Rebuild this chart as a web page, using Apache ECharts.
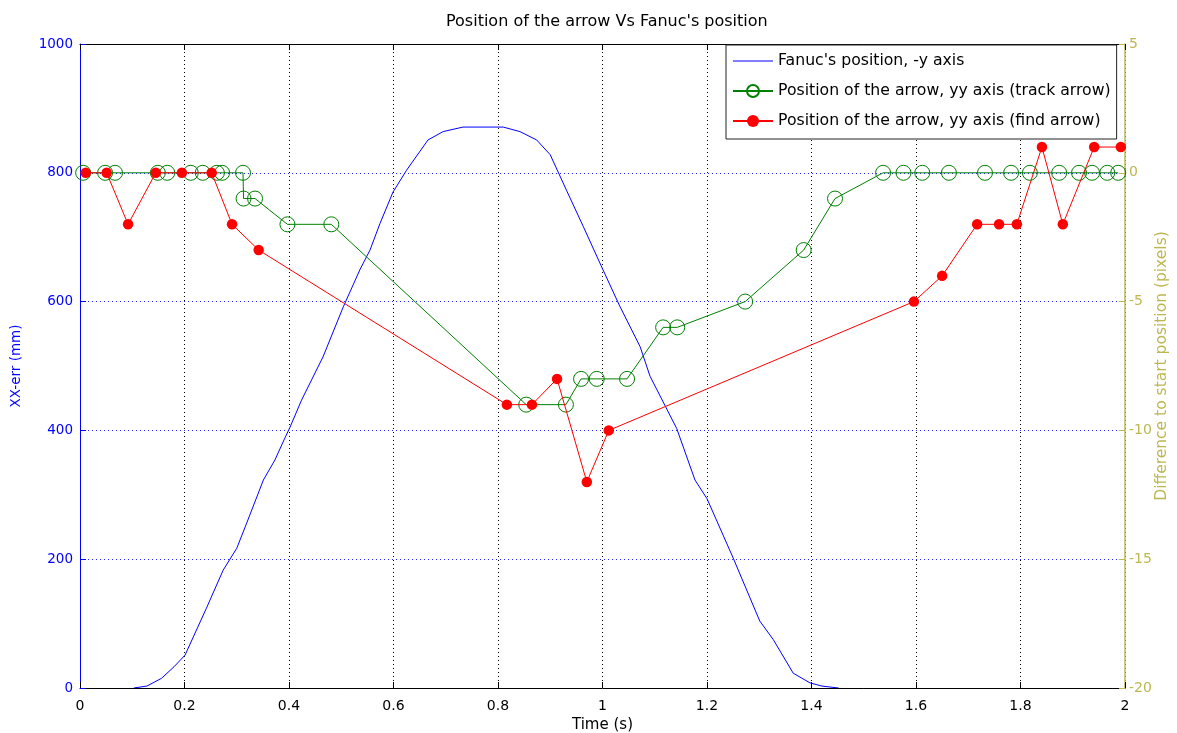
<!DOCTYPE html>
<html>
<head>
<meta charset="utf-8">
<script src="https://cdn.jsdelivr.net/npm/echarts@6/dist/echarts.min.js"></script>
<style>
html,body{margin:0;padding:0;background:#fff;}
#chart{width:1177px;height:733px;}
</style>
</head>
<body>
<div id="chart"></div>
<script>
// ---- data ----
const fanucTime = [0.103,0.128,0.156,0.18,0.201,0.242,0.274,0.30,0.319,0.351,0.373,0.392,0.402,0.424,0.465,0.504,0.536,0.555,0.574,0.599,0.625,0.666,0.695,0.733,0.81,0.842,0.874,0.9,0.931,0.963,1.0,1.033,1.072,1.091,1.12,1.142,1.177,1.2,1.25,1.301,1.327,1.365,1.397,1.42,1.452];
const fanucPos  = [0,3,15,33,51,124,183,217,256,323,354,388,405,447,514,592,650,680,721,770,804,851,864,871,871,864,851,828,773,717,651,593,530,484,438,403,323,294,202,104,75,23,8,3,0];

const trackTime = [0.006,0.048,0.067,0.149,0.167,0.212,0.235,0.262,0.272,0.312,0.313,0.335,0.397,0.481,0.854,0.930,0.959,0.989,1.047,1.116,1.143,1.273,1.385,1.445,1.537,1.576,1.612,1.663,1.732,1.782,1.818,1.874,1.912,1.937,1.966,1.987];
const trackDiff = [0,0,0,0,0,0,0,0,0,0,-1,-1,-2,-2,-9,-9,-8,-8,-8,-6,-6,-5,-3,-1,0,0,0,0,0,0,0,0,0,0,0,0];

const findTime = [0.011,0.051,0.092,0.145,0.195,0.252,0.291,0.342,0.817,0.865,0.913,0.970,1.012,1.596,1.650,1.717,1.759,1.793,1.841,1.881,1.941,1.992];
const findDiff = [0,0,-2,0,0,0,-2,-3,-9,-9,-8,-12,-10,-5,-4,-2,-2,-2,1,-2,1,1];

const seriesNames = ["Fanuc's position, -y axis", "Position of the arrow, yy axis (track arrow)", "Position of the arrow, yy axis (find arrow)"];
const titleText = "Position of the arrow Vs Fanuc's position";

const zip = (a, b) => a.map((v, i) => [v, b[i]]);
const FONT = 'DejaVu Sans';
const OLIVE = '#bdb752';

const chart = echarts.init(document.getElementById('chart'));
chart.setOption({
  animation: false,
  backgroundColor: '#fff',
  textStyle: { fontFamily: FONT },
  title: {
    text: titleText, left: 441, top: 9,
    textStyle: { fontSize: 16, fontWeight: 'normal', color: '#000', fontFamily: FONT }
  },
  grid: { left: 80, right: 52, top: 44, bottom: 45, containLabel: false, outerBoundsMode: 'none' },
  legend: {
    orient: 'vertical', left: 726, top: 45,
    backgroundColor: '#fff', borderColor: '#222', borderWidth: 1,
    padding: [8, 6, 10, 6], itemGap: 14, itemWidth: 40, itemHeight: 15,
    textStyle: { fontSize: 15.7, color: '#000', fontFamily: FONT },
    data: [
      { name: seriesNames[0], icon: 'path://M0,7 L40,7 L40,8 L0,8 Z' },
      { name: seriesNames[1] },
      { name: seriesNames[2] }
    ]
  },
  xAxis: [{
    type: 'value', min: 0, max: 2, interval: 0.2,
    name: 'Time (s)', nameLocation: 'middle', nameGap: 27,
    nameTextStyle: { fontSize: 15, color: '#000', fontFamily: FONT },
    axisLine: { show: true, lineStyle: { color: '#000', width: 1 } },
    axisTick: { show: true, inside: true, length: 6, lineStyle: { color: '#000' } },
    axisLabel: { fontSize: 14, color: '#000', margin: 11, formatter: v => String(v) },
    splitLine: { show: true, lineStyle: { color: '#000', type: [1, 3], width: 1 } }
  }, {
    type: 'value', min: 0, max: 2, interval: 0.2, position: 'top',
    axisLine: { show: true, onZero: false, lineStyle: { color: '#000', width: 1 } },
    axisTick: { show: true, inside: true, length: 6, lineStyle: { color: '#000' } },
    axisLabel: { show: false }, splitLine: { show: false }
  }],
  yAxis: [{
    type: 'value', min: 0, max: 1000, interval: 200, position: 'left',
    name: 'XX-err (mm)', nameLocation: 'middle', nameGap: 57,
    nameTextStyle: { fontSize: 13.5, color: '#0000ff', fontFamily: FONT },
    axisLine: { show: true, lineStyle: { color: '#0000ff', width: 1 } },
    axisTick: { show: true, inside: true, length: 6, lineStyle: { color: '#0000ff' } },
    axisLabel: { fontSize: 13.5, color: '#0000ff', margin: 7, formatter: v => String(v) },
    splitLine: { show: true, lineStyle: { color: '#0000ff', type: [1, 3], width: 1, opacity: 0.85 } }
  }, {
    type: 'value', min: -20, max: 5, interval: 5, position: 'right',
    name: 'Difference to start position (pixels)', nameLocation: 'middle', nameGap: 29,
    nameRotate: 90, nameMoveOverlap: false,
    nameTextStyle: { fontSize: 15.5, color: OLIVE, fontFamily: FONT },
    axisLine: { show: true, onZero: false, lineStyle: { color: OLIVE, width: 1.5 } },
    axisTick: { show: true, inside: true, length: 6, lineStyle: { color: OLIVE } },
    axisLabel: { fontSize: 14, color: OLIVE, margin: 4, formatter: v => String(v) },
    splitLine: { show: false }
  }],
  series: [{
    name: seriesNames[0], type: 'line', xAxisIndex: 0, yAxisIndex: 0,
    data: zip(fanucTime, fanucPos), showSymbol: false, symbol: 'none',
    lineStyle: { color: '#0000ff', width: 1 }, itemStyle: { color: '#0000ff' }, z: 3
  }, {
    name: seriesNames[1], type: 'line', xAxisIndex: 0, yAxisIndex: 1,
    data: zip(trackTime, trackDiff), symbol: 'circle', symbolSize: 15, showAllSymbol: true,
    lineStyle: { color: '#008000', width: 1 },
    itemStyle: { color: 'rgba(255,255,255,0)', borderColor: '#008000', borderWidth: 1 },
    z: 4
  }, {
    name: seriesNames[2], type: 'line', xAxisIndex: 0, yAxisIndex: 1,
    data: zip(findTime, findDiff), symbol: 'circle', symbolSize: 10.5, showAllSymbol: true,
    lineStyle: { color: '#ff0000', width: 1 },
    itemStyle: { color: '#ff0000' }, z: 5
  }]
});
</script>
</body>
</html>
